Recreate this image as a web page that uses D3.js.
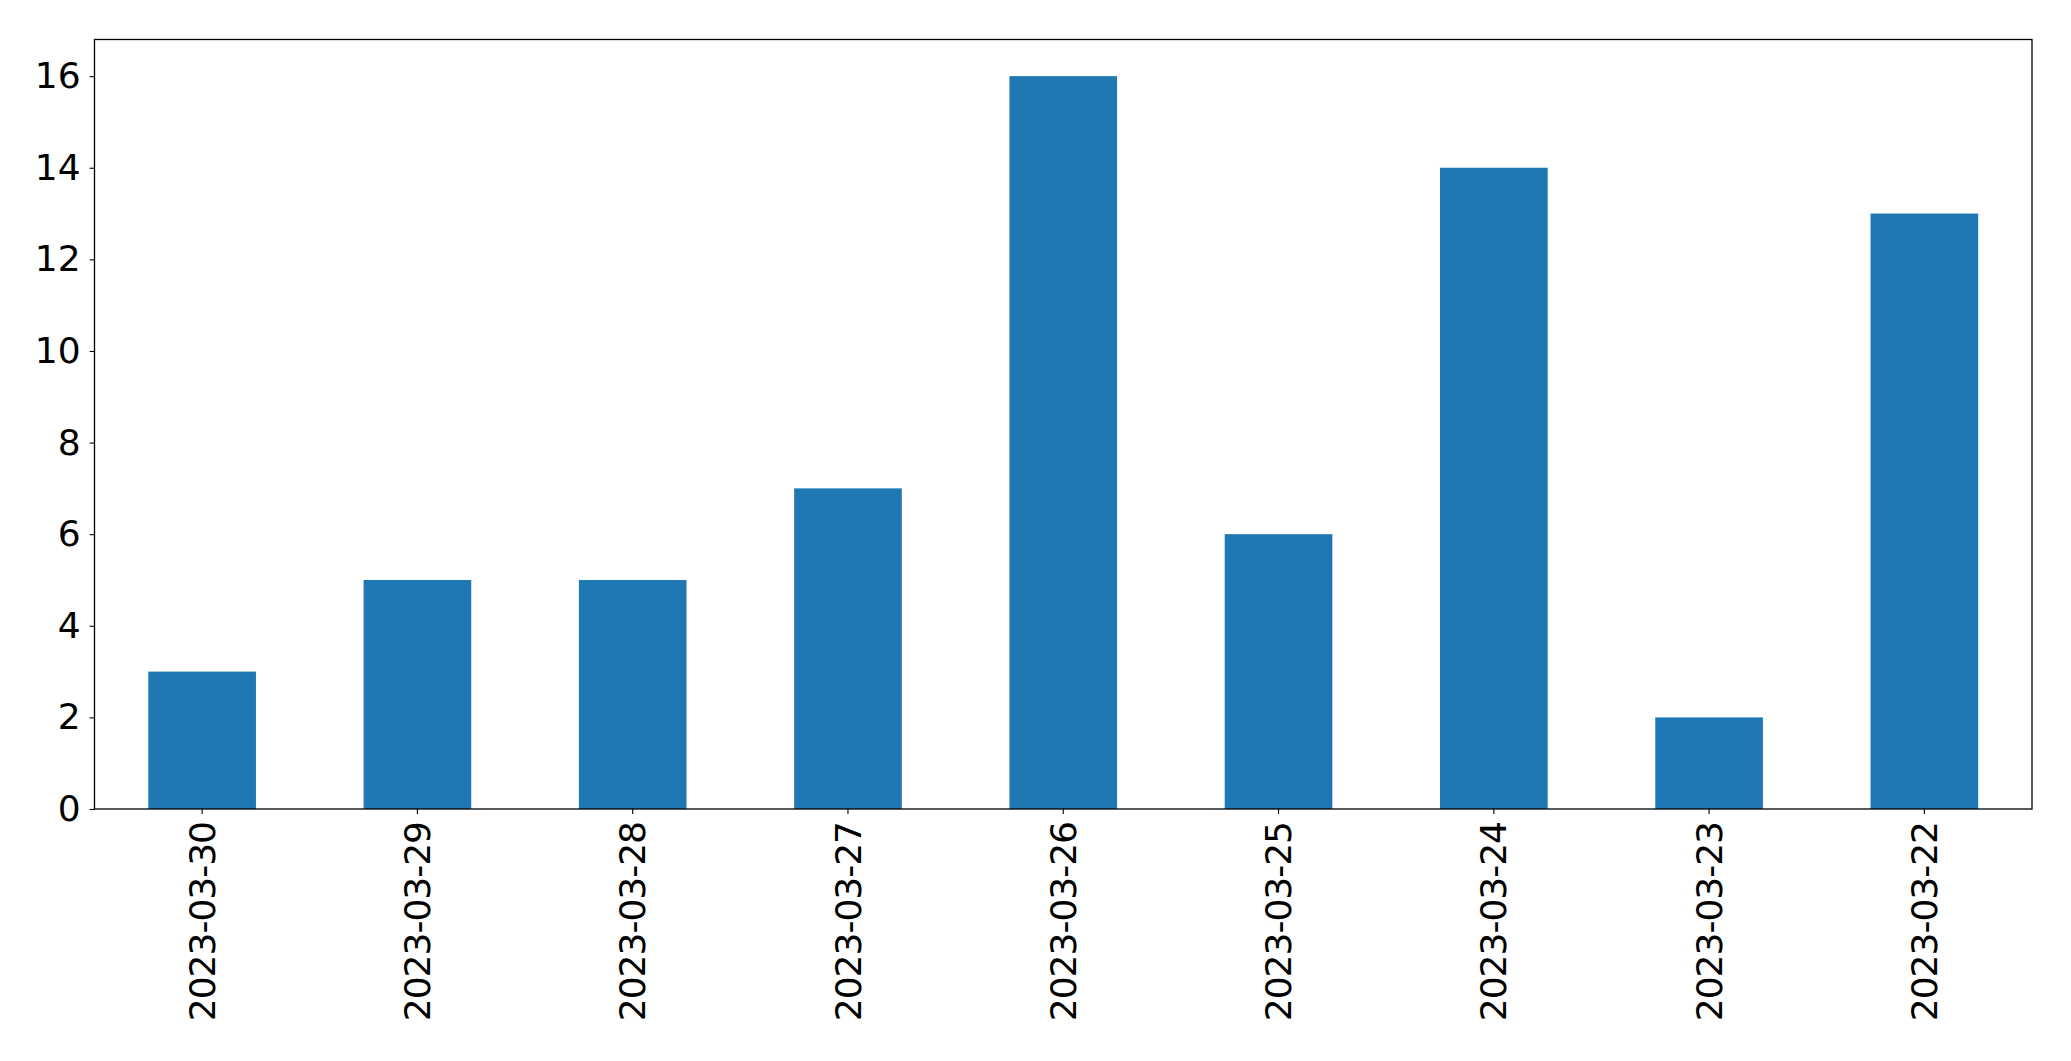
<!DOCTYPE html>
<html>
<head>
<meta charset="utf-8">
<script src="https://cdn.jsdelivr.net/npm/d3@7"></script>
<style>
  html, body { margin: 0; padding: 0; background: #fff; }
  svg { display: block; }
  text { font-family: "DejaVu Sans", sans-serif; fill: #000; }
</style>
</head>
<body>
<svg id="chart" width="2071" height="1061"></svg>
<script>
const categories = ["2023-03-30", "2023-03-29", "2023-03-28", "2023-03-27", "2023-03-26", "2023-03-25", "2023-03-24", "2023-03-23", "2023-03-22"];
const values = [3, 5, 5, 7, 16, 6, 14, 2, 13];
const yTicks = [0, 2, 4, 6, 8, 10, 12, 14, 16];

const m = { left: 94.5, right: 2032, top: 39.5, bottom: 809 };
const fontSize = 36;
const svg = d3.select("#chart");

const x = d3.scaleBand().domain(categories).range([m.left, m.right]).paddingInner(0.5).paddingOuter(0.25);
const y = d3.scaleLinear().domain([0, 16.8]).range([m.bottom, m.top]);

svg.append("g").selectAll("rect").data(values).join("rect")
  .attr("x", (d, i) => x(categories[i]))
  .attr("width", x.bandwidth())
  .attr("y", d => y(d))
  .attr("height", d => y(0) - y(d))
  .attr("fill", "#1f77b4");

svg.append("rect")
  .attr("x", m.left).attr("y", m.top)
  .attr("width", m.right - m.left).attr("height", m.bottom - m.top)
  .attr("fill", "none").attr("stroke", "#000").attr("stroke-width", 1.3);

const yAxis = svg.append("g").attr("transform", `translate(${m.left},0)`)
  .call(d3.axisLeft(y).tickValues(yTicks).tickSize(4.9).tickPadding(9).tickFormat(d3.format("d")));
yAxis.select(".domain").remove();
yAxis.selectAll("line").attr("stroke", "#000").attr("stroke-width", 1.1);
yAxis.selectAll("text").attr("font-size", fontSize).attr("font-family", "DejaVu Sans").attr("fill", "#000");

const xAxis = svg.append("g").attr("transform", `translate(0,${m.bottom})`)
  .call(d3.axisBottom(x).tickSize(4.9).tickPadding(0));
xAxis.select(".domain").remove();
xAxis.selectAll("line").attr("stroke", "#000").attr("stroke-width", 1.1);
xAxis.selectAll("text")
  .attr("font-size", fontSize).attr("font-family", "DejaVu Sans").attr("fill", "#000")
  .attr("letter-spacing", "-1px")
  .attr("text-anchor", "end")
  .attr("dy", "0.35em")
  .attr("transform", "translate(0,13) rotate(-90)")
  .attr("x", 0).attr("y", 0);
</script>
</body>
</html>
